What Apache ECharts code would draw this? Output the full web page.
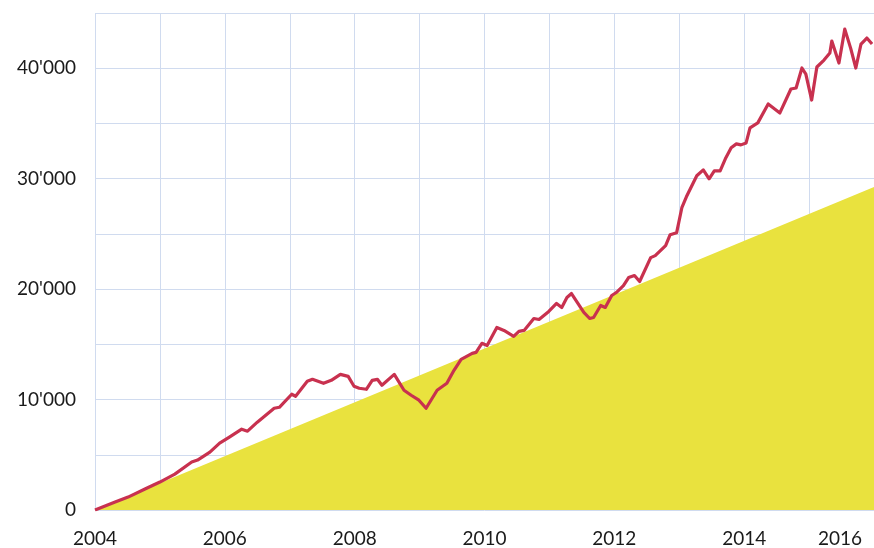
<!DOCTYPE html>
<html>
<head>
<meta charset="utf-8">
<script src="https://cdn.jsdelivr.net/npm/echarts@6/dist/echarts.min.js"></script>
<style>
html,body{margin:0;padding:0;background:#fff;}
#c{width:874px;height:548px;}
</style>
</head>
<body>
<div id="c"></div>
<script>
// Red line: [decimal year, value]
const lineYears = [
  2004.00,2004.31,2004.51,2004.77,2005.00,2005.23,2005.49,2005.58,2005.77,2005.92,
  2006.07,2006.26,2006.35,2006.50,2006.76,2006.84,2007.03,2007.09,2007.27,2007.35,
  2007.52,2007.64,2007.78,2007.90,2007.99,2008.07,2008.18,2008.27,2008.35,2008.42,
  2008.61,2008.76,2008.87,2008.99,2009.10,2009.27,2009.42,2009.53,2009.64,2009.81,
  2009.87,2009.96,2010.04,2010.19,2010.30,2010.45,2010.53,2010.61,2010.76,2010.84,
  2010.99,2011.11,2011.19,2011.27,2011.34,2011.53,2011.62,2011.68,2011.79,2011.86,
  2011.96,2012.03,2012.14,2012.22,2012.31,2012.39,2012.56,2012.63,2012.79,2012.86,
  2012.96,2013.04,2013.11,2013.27,2013.37,2013.46,2013.54,2013.63,2013.71,2013.80,
  2013.88,2013.95,2014.03,2014.09,2014.21,2014.37,2014.55,2014.72,2014.80,2014.89,
  2014.95,2015.04,2015.12,2015.23,2015.32,2015.35,2015.46,2015.55,2015.64,2015.72,
  2015.80,2015.89,2015.97
];
const lineValues = [
  0,720,1170,1900,2530,3250,4340,4520,5240,6050,
  6600,7320,7140,7950,9210,9300,10480,10300,11650,11830,
  11470,11740,12280,12100,11200,11020,10930,11740,11830,11290,
  12280,10840,10390,9940,9210,10840,11470,12650,13640,14180,
  14270,15090,14900,16530,16260,15720,16170,16260,17340,17250,
  17980,18700,18340,19240,19600,17890,17340,17430,18520,18340,
  19420,19690,20320,21050,21230,20690,22850,23030,23940,24930,
  25110,27370,28360,30260,30800,29990,30710,30710,31800,32790,
  33150,33060,33240,34600,35050,36760,35950,38120,38210,40020,
  39470,37120,40110,40740,41370,42460,40470,43540,41820,40020,
  42190,42730,42190
];
// Yellow area: straight ramp
const areaYears = [2004, 2016];
const areaValues = [0, 29250];

const xTickLabels = [2004, 2006, 2008, 2010, 2012, 2014, 2016];

const lineData = lineYears.map((y, i) => [y, lineValues[i]]);
const areaData = areaYears.map((y, i) => [y, areaValues[i]]);

const chart = echarts.init(document.getElementById('c'));
const font = 'Lato, "Open Sans", sans-serif';
chart.setOption({
  animation: false,
  backgroundColor: '#ffffff',
  grid: { left: 95, right: -2, top: 13, bottom: 38, containLabel: false },
  xAxis: {
    type: 'value', min: 2004, max: 2016, interval: 1,
    axisLine: { show: false }, axisTick: { show: false },
    splitLine: { show: true, lineStyle: { color: '#d0dbef', width: 1 } },
    axisLabel: {
      margin: 19, color: '#1a1a1a', fontSize: 19, fontFamily: font,
      showMaxLabel: true, showMinLabel: true,
      formatter: v => {
        if (xTickLabels.indexOf(v) < 0) return '';
        if (v === 2016) return '{r|' + v + '}';
        return String(v);
      },
      rich: { r: { fontSize: 19, fontFamily: font, color: '#1a1a1a', padding: [0, 68, 0, 0] } }
    }
  },
  yAxis: {
    type: 'value', min: 0, max: 45000, interval: 5000,
    axisLine: { show: false }, axisTick: { show: false },
    splitLine: { show: true, lineStyle: { color: '#d0dbef', width: 1 } },
    axisLabel: {
      margin: 19, color: '#1a1a1a', fontSize: 19, fontFamily: font,
      formatter: v => (v % 10000 !== 0) ? '' : (v === 0 ? '0' : (v / 1000) + "'000")
    }
  },
  series: [
    {
      type: 'line', data: areaData, symbol: 'none', silent: true,
      lineStyle: { width: 0 },
      areaStyle: { color: '#e9e23e', opacity: 1 },
      z: 2
    },
    {
      type: 'line', data: lineData, symbol: 'none', silent: true,
      lineStyle: { color: '#c8314f', width: 3.2, join: 'round' },
      z: 3
    }
  ]
});
</script>
</body>
</html>
